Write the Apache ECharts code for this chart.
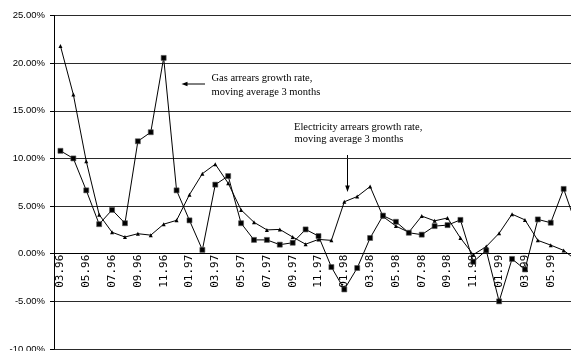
<!DOCTYPE html>
<html>
<head>
<meta charset="utf-8">
<script src="https://cdn.jsdelivr.net/npm/echarts@6/dist/echarts.min.js"></script>
<style>
  html, body { margin: 0; padding: 0; background: #fff; }
  #chart { width: 571px; height: 351px; }
</style>
</head>
<body>
<div id="chart"></div>
<script>
// Monthly categories, March 1996 to July 1999
var months = [
  '03.96','04.96','05.96','06.96','07.96','08.96','09.96','10.96','11.96','12.96',
  '01.97','02.97','03.97','04.97','05.97','06.97','07.97','08.97','09.97','10.97',
  '11.97','12.97','01.98','02.98','03.98','04.98','05.98','06.98','07.98','08.98',
  '09.98','10.98','11.98','12.98','01.99','02.99','03.99','04.99','05.99','06.99',
  '07.99'
];

// Electricity arrears growth rate, 3-month moving average (%)
var electricity = [
  21.8, 16.7, 9.7, 4.1, 2.25, 1.75, 2.1, 1.95, 3.1, 3.5,
  6.2, 8.4, 9.4, 7.4, 4.6, 3.3, 2.5, 2.55, 1.75, 1.0,
  1.5, 1.4, 5.45, 6.0, 7.05, 3.9, 2.9, 2.25, 3.95, 3.45,
  3.75, 1.65, -0.1, 0.75, 2.15, 4.15, 3.55, 1.4, 0.9, 0.35,
  -0.7
];

// Gas arrears growth rate, 3-month moving average (%)
var gas = [
  10.8, 10.0, 6.65, 3.1, 4.6, 3.2, 11.8, 12.75, 20.55, 6.65,
  3.5, 0.4, 7.25, 8.15, 3.2, 1.45, 1.45, 0.95, 1.15, 2.55,
  1.85, -1.4, -3.75, -1.5, 1.65, 4.0, 3.35, 2.2, 2.0, 2.9,
  3.0, 3.55, -0.85, 0.35, -5.0, -0.55, -1.65, 3.6, 3.25, 6.8,
  2.9
];

// Value axis range and step (%)
var yMin = -10, yMax = 25, yStep = 5;

var gridTop = 15.5, gridBottom = 2, chartHeight = 351;
// Lift the category axis from the plot bottom up to the 0% line
var plotHeight = chartHeight - gridTop - gridBottom;
var zeroLift = -plotHeight * (0 - yMin) / (yMax - yMin);

var serifFont = '10.5px "Liberation Serif", "DejaVu Serif", serif';

var chart = echarts.init(document.getElementById('chart'), null, { renderer: 'canvas' });

chart.setOption({
  animation: false,
  backgroundColor: '#ffffff',
  // the plot runs on past the right edge of the canvas
  grid: { left: 54, width: 529, top: gridTop, bottom: gridBottom,
          containLabel: false, outerBoundsMode: 'none' },
  xAxis: {
    type: 'category',
    data: months,
    boundaryGap: true,
    offset: zeroLift,
    axisLine: { onZero: false, lineStyle: { color: '#000', width: 1 } },
    axisTick: { show: false },
    axisLabel: {
      interval: 1,
      rotate: 90,
      margin: 1,
      color: '#000',
      fontFamily: '"DejaVu Sans Mono", monospace',
      fontSize: 11
    },
    splitLine: { show: false }
  },
  yAxis: {
    type: 'value',
    min: yMin,
    max: yMax,
    interval: yStep,
    axisLine: { show: true, lineStyle: { color: '#000', width: 1 } },
    axisTick: { show: true, length: 4, lineStyle: { color: '#000' } },
    axisLabel: {
      margin: 9,
      color: '#000',
      fontFamily: '"Liberation Sans", Arial, sans-serif',
      fontSize: 9.5,
      formatter: function (v) { return v.toFixed(2) + '%'; }
    },
    splitLine: { show: true, lineStyle: { color: '#2a2a2a', width: 1 } }
  },
  series: [
    {
      name: 'Electricity arrears growth rate',
      type: 'line',
      data: electricity,
      symbol: 'triangle',
      symbolSize: 4,
      showAllSymbol: true,
      itemStyle: { color: '#000' },
      lineStyle: { color: '#000', width: 1 },
      z: 3
    },
    {
      name: 'Gas arrears growth rate',
      type: 'line',
      data: gas,
      symbol: 'rect',
      symbolSize: 5,
      showAllSymbol: true,
      itemStyle: { color: '#000', borderColor: '#555', borderWidth: 0.6 },
      lineStyle: { color: '#000', width: 1 },
      z: 4
    }
  ],
  graphic: [
    // Gas annotation and its arrow
    { type: 'text', x: 211.5, y: 78.5,
      style: { text: 'Gas arrears growth rate,', font: serifFont, fill: '#000', verticalAlign: 'middle', align: 'left' } },
    { type: 'text', x: 211.5, y: 92.5,
      style: { text: 'moving average 3 months', font: serifFont, fill: '#000', verticalAlign: 'middle', align: 'left' } },
    { type: 'line', shape: { x1: 205, y1: 84, x2: 186, y2: 84 },
      style: { stroke: '#000', lineWidth: 1 } },
    { type: 'polygon', shape: { points: [[181.5, 84], [187.5, 81.8], [187.5, 86.2]] },
      style: { fill: '#000' } },
    // Electricity annotation and its arrow
    { type: 'text', x: 294, y: 127,
      style: { text: 'Electricity arrears growth rate,', font: serifFont, fill: '#000', verticalAlign: 'middle', align: 'left' } },
    { type: 'text', x: 294.5, y: 139.5,
      style: { text: 'moving average 3 months', font: serifFont, fill: '#000', verticalAlign: 'middle', align: 'left' } },
    { type: 'line', shape: { x1: 347.5, y1: 155, x2: 347.5, y2: 187 },
      style: { stroke: '#000', lineWidth: 1 } },
    { type: 'polygon', shape: { points: [[347.5, 192], [345.2, 185.5], [349.8, 185.5]] },
      style: { fill: '#000' } }
  ]
});
</script>
</body>
</html>
